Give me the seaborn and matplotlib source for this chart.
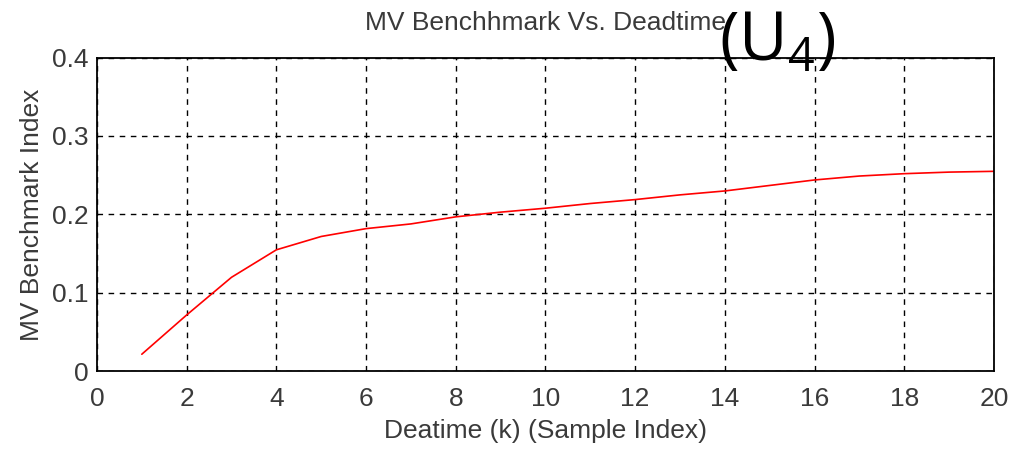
import matplotlib
matplotlib.use("Agg")
import matplotlib.pyplot as plt
import seaborn as sns
import pandas as pd

deadtime = [1, 2, 3, 4, 5, 6, 7, 8, 9, 10, 11, 12, 13, 14, 15, 16, 17, 18, 19, 20]
mv_index = [0.022, 0.072, 0.120, 0.155, 0.172, 0.182, 0.188, 0.197, 0.203, 0.208,
            0.214, 0.219, 0.225, 0.230, 0.237, 0.244, 0.249, 0.252, 0.254, 0.255]
x_ticks = [0, 2, 4, 6, 8, 10, 12, 14, 16, 18, 20]
y_ticks = [0, 0.1, 0.2, 0.3, 0.4]
y_tick_labels = ["0", "0.1", "0.2", "0.3", "0.4"]

sns.set_style("white")
plt.rcParams['font.family'] = ['Liberation Sans', 'DejaVu Sans']

df = pd.DataFrame({"k": deadtime, "v": mv_index})

fig = plt.figure(figsize=(10.09, 4.51), dpi=100)
ax = fig.add_axes([0.0961, 0.1763, 0.8890, 0.6962])
sns.lineplot(data=df, x="k", y="v", color="#ff0000", linewidth=1.2, ax=ax)

ax.set_xlim(0, 20)
ax.set_ylim(0, 0.4)
ax.set_xticks(x_ticks)
ax.set_xticklabels([str(t) for t in x_ticks])
ax.set_yticks(y_ticks)
ax.set_yticklabels(y_tick_labels)
txtc = "#3a3a3a"
ax.tick_params(axis="both", direction="in", length=5, width=1, labelsize=19,
               labelcolor=txtc, color="black")
ax.tick_params(axis="x", pad=11)
ax.tick_params(axis="y", pad=6)
ax.grid(True, color="black", linestyle=(0, (4, 4)), linewidth=1)
for s in ax.spines.values():
    s.set_color("black")
    s.set_linewidth(1.3)
    s.set_visible(True)

ax.set_xlabel("Deatime (k) (Sample Index)", fontsize=19, color=txtc, labelpad=6)
ax.set_ylabel("MV Benchmark Index", fontsize=19, color=txtc, labelpad=6)
ax.set_title("MV Benchhmark Vs. Deadtime", fontsize=19, color=txtc, pad=20)

fig.text(0.713, 0.864, r"(U$_{\mathregular{4}}$)", fontsize=48, color="black",
         family="Open Sans", ha="left", va="baseline")

fig.savefig("out.png", dpi=100)
